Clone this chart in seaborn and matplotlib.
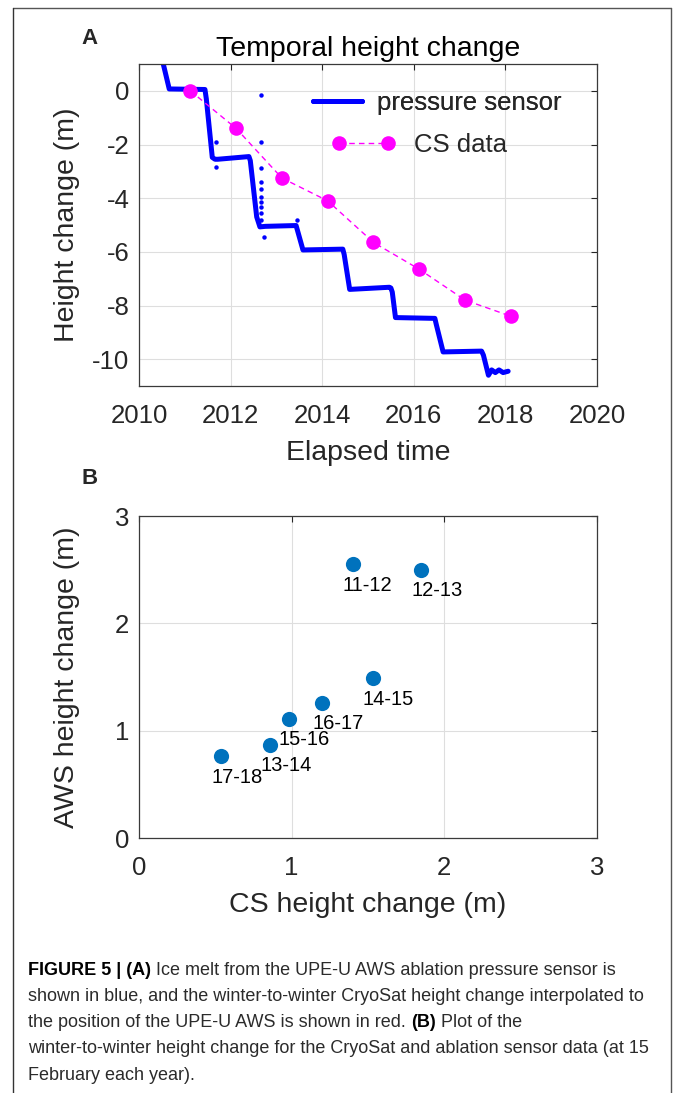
import matplotlib
matplotlib.use("Agg")
import matplotlib.pyplot as plt
from matplotlib.lines import Line2D
import seaborn as sns
import numpy as np
import pandas as pd

# ---------------- data ----------------
# Panel A: pressure sensor (ablation) height record, vertices
sensor_time = [2010.53, 2010.66, 2011.44, 2011.47, 2011.60, 2011.66, 2011.72, 2012.40,
               2012.43, 2012.57, 2012.64, 2012.76, 2013.43, 2013.46, 2013.58, 2014.45,
               2014.48, 2014.60, 2015.47, 2015.50, 2015.53, 2015.60, 2016.46, 2016.49,
               2016.64, 2017.48, 2017.52, 2017.63, 2017.70, 2017.78, 2017.86, 2017.95, 2018.06]
sensor_height = [1.0, 0.07, 0.05, -0.3, -2.48, -2.55, -2.55, -2.45,
                 -2.6, -4.7, -5.07, -5.05, -5.02, -5.2, -5.93, -5.9,
                 -6.1, -7.4, -7.32, -7.35, -7.5, -8.45, -8.48, -8.7,
                 -9.73, -9.7, -9.85, -10.6, -10.4, -10.5, -10.4, -10.5, -10.45]
# isolated sensor readings (spikes)
spike_time = [2011.68, 2011.68, 2012.66, 2012.66, 2012.66, 2012.66, 2012.66, 2012.66,
              2012.66, 2012.66, 2012.66, 2012.66, 2012.72, 2013.44]
spike_height = [-1.9, -2.85, -0.16, -1.89, -2.87, -3.39, -3.67, -3.95,
                -4.13, -4.32, -4.57, -4.8, -5.45, -4.81]
# CryoSat height change (15 February each year)
cs_time = [2011.12, 2012.12, 2013.12, 2014.12, 2015.12, 2016.12, 2017.12, 2018.12]
cs_height = [0.0, -1.4, -3.25, -4.1, -5.65, -6.65, -7.8, -8.4]

# Panel B: winter-to-winter height change
period_labels = ["11-12", "12-13", "13-14", "14-15", "15-16", "16-17", "17-18"]
cs_change = [1.40, 1.85, 0.86, 1.53, 0.98, 1.20, 0.54]
aws_change = [2.55, 2.50, 0.87, 1.49, 1.11, 1.26, 0.76]

xticks_a = [2010, 2012, 2014, 2016, 2018, 2020]
yticks_a = [-10, -8, -6, -4, -2, 0]
ticks_b = [0, 1, 2, 3]

# ---------------- style ----------------
sns.set_style("white")
plt.rcParams["font.family"] = ["Liberation Sans", "DejaVu Sans"]
plt.rcParams["axes.unicode_minus"] = False

W, H = 673, 1093
fig = plt.figure(figsize=(W / 100, H / 100), dpi=100)

TICK_FS = 18.5
LABEL_FS = 20.5
dark = "#262626"
grid_c = "#dedede"


def style_axes(ax):
    for s in ax.spines.values():
        s.set_color("#3a3a3a")
        s.set_linewidth(0.9)
        s.set_visible(True)
    ax.tick_params(direction="in", length=4, width=0.8, top=True, right=True,
                   labelsize=TICK_FS, colors=dark, labelcolor=dark)
    ax.tick_params(axis="x", pad=13)
    ax.tick_params(axis="y", pad=7)
    ax.grid(True, color=grid_c, linewidth=0.8)
    ax.set_axisbelow(True)


def place_labels(ax, xlab, ylab, xlab_y, ylab_x):
    ax.set_xlabel(xlab, fontsize=LABEL_FS, color=dark)
    ax.set_ylabel(ylab, fontsize=LABEL_FS, color=dark)
    ax.xaxis.label.set_verticalalignment("center")
    ax.yaxis.label.set_verticalalignment("center")
    ax.xaxis.set_label_coords(0.5, xlab_y)
    ax.yaxis.set_label_coords(ylab_x, 0.5)


# ---------------- Panel A ----------------
axA = fig.add_axes([139 / W, 1 - 386 / H, 458 / W, 322 / H])
style_axes(axA)
dfA = pd.DataFrame({"t": sensor_time, "h": sensor_height})
sns.lineplot(data=dfA, x="t", y="h", sort=False, estimator=None, color="blue",
             linewidth=3.6, ax=axA, legend=False)
axA.plot(spike_time, spike_height, linestyle="none", marker="o", markersize=3.2,
         color="blue", markeredgewidth=0)
dfCS = pd.DataFrame({"t": cs_time, "h": cs_height})
axA.plot(dfCS["t"], dfCS["h"], color="#ff00ff", linestyle=(0, (4, 3)), linewidth=1.0,
         marker="o", markersize=10.5, markeredgewidth=0)
axA.set_xlim(2010, 2020)
axA.set_ylim(-11, 1)
axA.set_xticks(xticks_a)
axA.set_yticks(yticks_a)
place_labels(axA, "Elapsed time", "Height change (m)", (386 - 453) / 322, (67 - 139) / 458)
axA.set_title("Temporal height change", fontsize=LABEL_FS, color="black", pad=6)

h1 = Line2D([], [], color="blue", linewidth=3.6)
h2 = Line2D([], [], color="#ff00ff", linestyle=(0, (4, 3)), linewidth=1.0,
            marker="o", markersize=10.5, markeredgewidth=0)
leg1 = fig.legend([h1], ["pressure sensor"], loc="center left",
                  bbox_to_anchor=(313 / W, 1 - 103 / H), frameon=False,
                  fontsize=TICK_FS, handlelength=1.9, handletextpad=0.6,
                  borderpad=0, borderaxespad=0)
leg2 = fig.legend([h2], ["CS data"], loc="center left",
                  bbox_to_anchor=(331 / W, 1 - 145 / H), frameon=False,
                  fontsize=TICK_FS, handlelength=2.5, handletextpad=0.72,
                  numpoints=2, borderpad=0, borderaxespad=0)
fig.add_artist(leg1)

# ---------------- Panel B ----------------
axB = fig.add_axes([139 / W, 1 - 838 / H, 458 / W, 322 / H])
style_axes(axB)
dfB = pd.DataFrame({"cs": cs_change, "aws": aws_change, "label": period_labels})
sns.scatterplot(data=dfB, x="cs", y="aws", color="#0072BD", s=120, linewidth=0,
                ax=axB, legend=False, zorder=3)
for xv, yv, lab in zip(dfB["cs"], dfB["aws"], dfB["label"]):
    axB.annotate(lab, (xv, yv), xytext=(-7.2, -15.1), textcoords="offset points",
                 ha="left", va="center", fontsize=14.5, color="black")
axB.set_xlim(0, 3)
axB.set_ylim(0, 3)
axB.set_xticks(ticks_b)
axB.set_yticks(ticks_b)
place_labels(axB, "CS height change (m)", "AWS height change (m)", (838 - 905) / 322, (67 - 139) / 458)

# panel letters
fig.text(90 / W, 1 - 39 / H, "A", fontsize=16, fontweight="bold", ha="center", va="center")
fig.text(90 / W, 1 - 479 / H, "B", fontsize=16, fontweight="bold", ha="center", va="center")

# frame around figure
fig.add_artist(Line2D([13 / W, 671 / W], [1 - 8 / H, 1 - 8 / H], color="#555555", lw=1.0))
fig.add_artist(Line2D([13 / W, 13 / W], [1 - 8 / H, 0], color="#333333", lw=1.0))
fig.add_artist(Line2D([671 / W, 671 / W], [1 - 8 / H, 0], color="#555555", lw=1.0))

# ---------------- caption ----------------
CAP_FS = 13.0
cap_c = "#2b2b2b"
x0 = 28
line_y = [975, 1001, 1027, 1053, 1080]
captions = [
    [("FIGURE 5 | (A)", True), (" Ice melt from the UPE-U AWS ablation pressure sensor is", False)],
    [("shown in blue, and the winter-to-winter CryoSat height change interpolated to", False)],
    [("the position of the UPE-U AWS is shown in red. ", False), ("(B)", True), (" Plot of the", False)],
    [("winter-to-winter height change for the CryoSat and ablation sensor data (at 15", False)],
    [("February each year).", False)],
]

renderer = fig.canvas.get_renderer()
for parts, ypx in zip(captions, line_y):
    xcur = x0
    for txt, bold in parts:
        t = fig.text(xcur / W, 1 - ypx / H, txt, ha="left", va="baseline",
                     fontsize=CAP_FS, color="black" if bold else cap_c,
                     fontweight="bold" if bold else "normal")
        xcur = t.get_window_extent(renderer=renderer).x1

fig.savefig("out.png", dpi=100)
